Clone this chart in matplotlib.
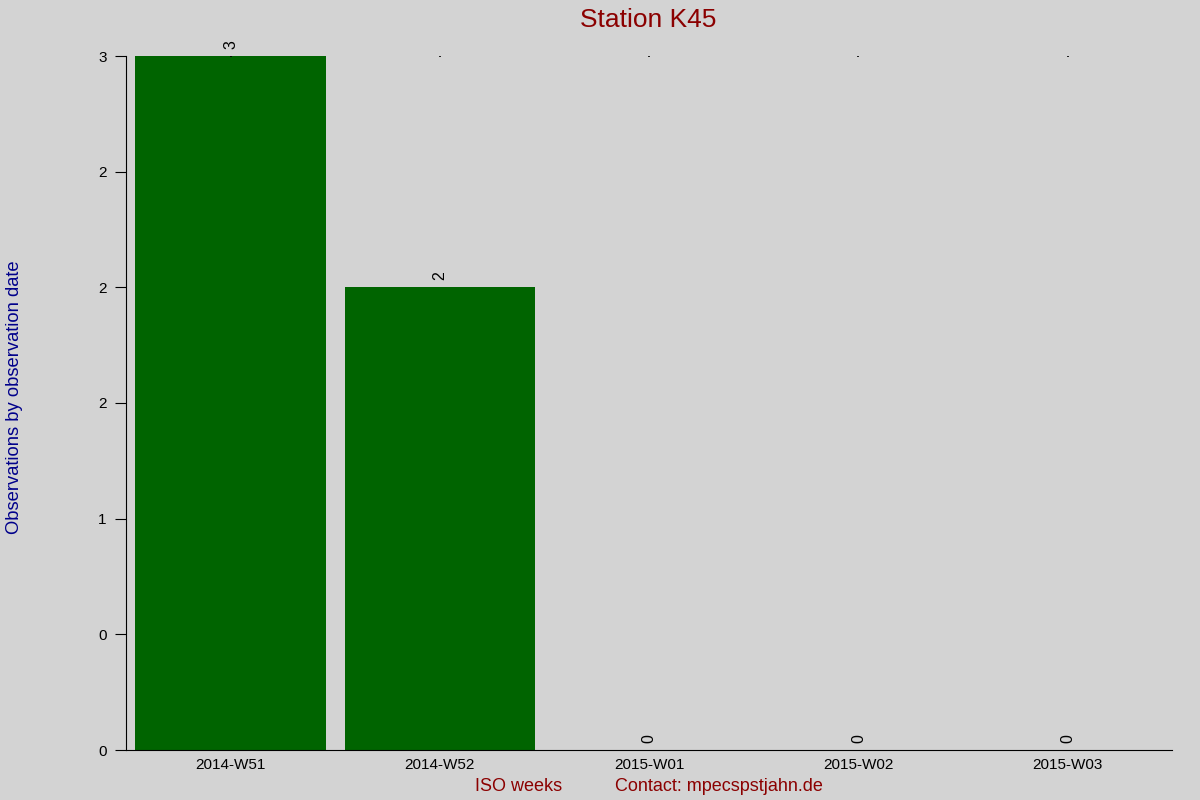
import matplotlib
matplotlib.use('Agg')
import matplotlib.pyplot as plt
from matplotlib.ticker import FormatStrFormatter

plt.rcParams['font.family'] = ['Liberation Sans', 'DejaVu Sans']

weeks = ['2014-W51', '2014-W52', '2015-W01', '2015-W02', '2015-W03']
counts = [3, 2, 0, 0, 0]

bg = '#d3d3d3'
fig = plt.figure(figsize=(12, 8), dpi=100, facecolor=bg)
ax = fig.add_axes([0.105, 0.0625, 0.872, 0.8675])
ax.set_facecolor(bg)

x = range(len(weeks))
bars = ax.bar(x, counts, width=0.91, color='#006400')
for xi, c in zip(x, counts):
    ax.text(xi, c + 0.03, str(c), rotation=90, ha='center', va='bottom', fontsize=11.5)

ax.set_xlim(-0.5, len(weeks) - 0.5)
ax.set_ylim(0, 3)
ax.set_xticks(list(x))
ax.set_xticklabels(weeks, fontsize=11)
ax.set_yticks([0, 0.5, 1, 1.5, 2, 2.5, 3])
ax.yaxis.set_major_formatter(FormatStrFormatter('%.0f'))
ax.tick_params(axis='y', labelsize=11, length=8, pad=6)
ax.tick_params(axis='x', bottom=False, top=True, direction='in', length=1, width=1.2, pad=6)
for s in ['top', 'right']:
    ax.spines[s].set_visible(False)

fig.text(0.54, 0.99, 'Station K45', ha='center', va='top', fontsize=19, color='#8b0000')
fig.text(0.005, 0.503, 'Observations by observation date', rotation=90, ha='left', va='center',
         fontsize=13.2, color='#00008b')
fig.text(0.432, 0.017, 'ISO weeks', ha='center', va='center', fontsize=13, color='#8b0000')
fig.text(0.599, 0.017, 'Contact: mpecspstjahn.de', ha='center', va='center', fontsize=13, color='#8b0000')

fig.savefig('out.png', facecolor=bg)
